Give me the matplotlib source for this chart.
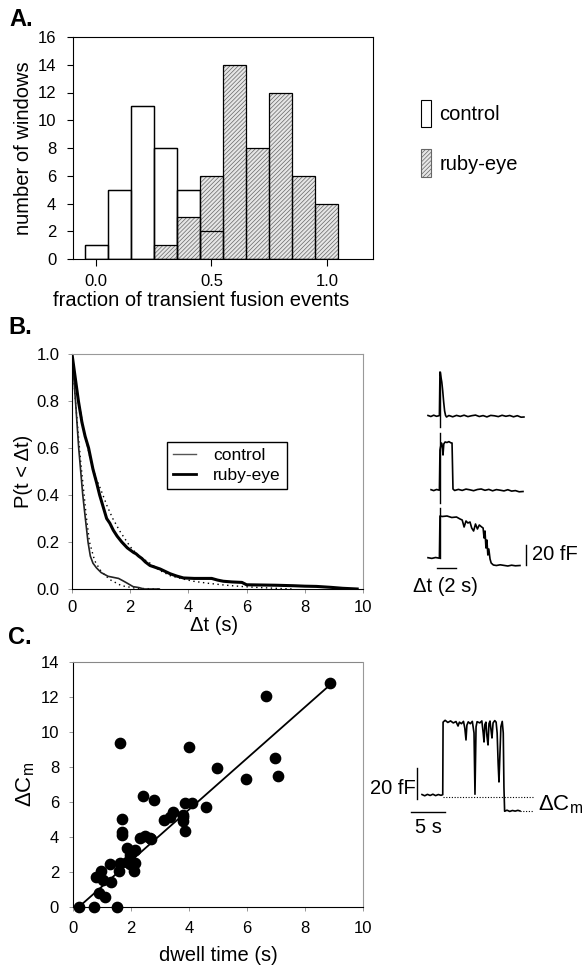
import matplotlib
matplotlib.use("Agg")
import matplotlib.pyplot as plt
from matplotlib.patches import Patch
from matplotlib.lines import Line2D

plt.rcParams['font.family'] = ['Liberation Sans', 'DejaVu Sans']
plt.rcParams['hatch.linewidth'] = 0.5

# ── Panel A: histogram of transient fraction ──
bin_centers = [0.0, 0.1, 0.2, 0.3, 0.4, 0.5, 0.6, 0.7, 0.8, 0.9, 1.0]
control_counts = [1, 5, 11, 8, 5, 2, 0, 0, 0, 0, 0]
ruby_counts = [0, 0, 0, 1, 3, 6, 14, 8, 12, 6, 4]

# ── Panel B: cumulative dwell distributions ──
ctrl_t = [0, 0.12, 0.23, 0.37, 0.45, 0.55, 0.63, 0.72, 0.84, 1.0, 1.12, 1.24, 1.4, 1.6, 1.75, 1.88, 2.1, 2.3, 2.47, 3.0]
ctrl_p = [1.0, 0.8, 0.6, 0.4, 0.31, 0.2, 0.14, 0.11, 0.09, 0.07, 0.062, 0.054, 0.05, 0.045, 0.035, 0.026, 0.01, 0.006, 0.0, 0.0]
ctrl_fit_t = [0, 0.1, 0.2, 0.3, 0.4, 0.49, 0.6, 0.78, 1.0, 1.3, 1.7, 2.2, 3.0]
ctrl_fit_p = [1.0, 0.83, 0.68, 0.54, 0.42, 0.31, 0.2, 0.12, 0.075, 0.04, 0.014, 0.003, 0.0]

ruby_t = [0, 0.22, 0.34, 0.45, 0.57, 0.72, 0.85, 0.95, 1.07, 1.19, 1.3, 1.42, 1.55, 1.71, 1.9, 2.12, 2.2, 2.29, 2.4, 2.52,
          2.68, 3.03, 3.37, 3.6, 3.83, 4.2, 4.8, 5.0, 5.2, 5.5, 5.84, 6.0, 6.5, 7.0, 7.6, 8.0, 8.4, 8.9, 9.3, 9.8]
ruby_p = [1.0, 0.8, 0.71, 0.65, 0.6, 0.51, 0.45, 0.4, 0.35, 0.3, 0.28, 0.25, 0.225, 0.2, 0.175, 0.155, 0.15, 0.14, 0.13, 0.115,
          0.1, 0.085, 0.065, 0.055, 0.047, 0.045, 0.045, 0.038, 0.033, 0.03, 0.028, 0.018, 0.017, 0.016, 0.014, 0.012, 0.011, 0.007, 0.003, 0.0]
ruby_fit_t = [0, 0.2, 0.4, 0.6, 0.8, 1.0, 1.2, 1.4, 1.65, 2.0, 2.3, 2.68, 3.0, 3.37, 3.8, 4.17, 4.7, 5.3, 5.9, 6.47, 7.0, 7.6]
ruby_fit_p = [1.0, 0.82, 0.68, 0.57, 0.48, 0.42, 0.355, 0.3, 0.245, 0.18, 0.14, 0.11, 0.08, 0.057, 0.043, 0.033, 0.024, 0.016, 0.01, 0.006, 0.003, 0.0]

# example traces next to panel B (time in s, capacitance in fF)
tr1_t = [0.0, 0.3, 0.6, 0.9, 1.2, 1.26, 1.3, 1.38, 1.45, 1.55, 1.65, 1.75, 1.85, 1.95, 2.2, 2.6, 3.0, 3.4, 3.8, 4.2,
         4.6, 5.0, 5.4, 5.8, 6.2, 6.6, 7.0, 7.4, 7.8, 8.2, 8.6, 9.0, 9.4, 9.8, 10.1]
tr1_f = [0.5, -0.5, 0.8, -0.3, 0.4, 44, 43, 38, 34, 25, 14, 5, 0.5, -1, 0.5, -0.8, 0.6, -0.4, 0.8, -0.6,
         0.3, 0.9, -0.5, 0.4, -0.9, 0.6, 0.2, -0.6, 0.7, -0.3, 0.5, -0.8, 0.3, -1.2, -1.0]
tr2_t = [0.32, 0.6, 0.9, 1.2, 1.26, 1.32, 1.42, 1.5, 1.58, 1.66, 1.8, 2.0, 2.2, 2.4, 2.53, 2.63, 2.8, 3.2, 3.6, 4.0,
         4.4, 4.8, 5.2, 5.6, 6.0, 6.4, 6.8, 7.2, 7.6, 8.0, 8.4, 8.8, 9.2, 9.6, 10.0]
tr2_f = [0.3, -0.6, 0.5, -0.2, 40, 43, 47, 44, 35, 46, 48, 47.5, 48.4, 47.2, 47, 1, -0.5, 0.6, -0.4, 0.9,
         0.2, -0.7, 0.5, 1.0, -0.3, 0.6, -0.8, 0.4, -0.2, -0.9, 0.3, -1.1, -0.6, -1.8, -1.5]
tr3_t = [0.0, 0.4, 0.8, 1.2, 1.26, 1.5, 2.0, 2.5, 3.0, 3.37, 3.6, 3.8, 4.0, 4.2, 4.42, 4.6, 4.8, 5.0, 5.2, 5.4,
         5.65, 5.8, 5.9, 6.0, 6.1, 6.2, 6.3, 6.4, 6.53, 6.65, 6.88, 7.2, 7.6, 8.0, 8.4, 8.8, 9.2, 9.68]
tr3_f = [0.3, -0.4, 0.5, -0.2, 42, 41.5, 42, 40.5, 41, 39, 38, 31, 37, 35, 36, 30, 27, 34, 29, 33,
         31, 30, 20, 27, 10, 18, 3, 9, -1, -5, -7, -7.5, -6.8, -7.4, -8, -7.2, -7.8, -7.5]
tr_offsets = [142, 68, 0]
onset_t = 1.26
onset_segments = [(131, 186), (55, 125), (0, 50)]

# ── Panel C: dwell time vs capacitance step ──
dwell = [0.22, 0.71, 1.5, 0.79, 0.89, 0.98, 1.11, 1.04, 1.3, 1.28, 1.59, 1.61, 1.61, 1.7, 1.7, 1.7, 1.87, 1.87,
         1.98, 1.98, 2.13, 2.11, 2.13, 2.3, 2.41, 2.49, 2.64, 2.78, 2.7, 3.15, 3.33, 3.46, 3.78, 3.78, 3.78, 3.86,
         3.86, 3.99, 4.1, 4.57, 4.98, 5.97, 6.66, 6.96, 7.06, 8.85]
delta_cm = [0.0, 0.0, 0.0, 1.72, 0.8, 2.06, 0.57, 1.53, 1.43, 2.44, 2.04, 2.54, 9.36, 5.02, 4.3, 4.09, 2.58, 3.4,
            2.96, 2.48, 2.54, 2.04, 3.25, 3.92, 6.34, 4.07, 3.92, 6.11, 3.9, 4.97, 5.12, 5.44, 5.25, 4.93, 5.15, 4.34,
            5.92, 9.13, 5.92, 5.73, 7.93, 7.31, 12.03, 8.54, 7.51, 12.8]
fit_x = [0.2, 8.8]
fit_y = [0.0, 12.6]

# example trace next to panel C
trc_t = [0.0, 0.4, 0.8, 1.2, 1.6, 2.0, 2.4, 2.8, 3.05, 3.1, 3.4, 3.8, 4.2, 4.6, 5.0, 5.3, 5.5, 5.8, 6.1, 6.3,
         6.47, 6.6, 6.8, 7.1, 7.4, 7.65, 7.79, 7.95, 8.1, 8.5, 8.8, 9.0, 9.12, 9.25, 9.4, 9.55, 9.71, 9.85, 10.0,
         10.15, 10.29, 10.45, 10.7, 10.9, 11.05, 11.2, 11.32, 11.45, 11.6, 11.8, 11.95, 12.05, 12.15, 12.5, 12.9,
         13.3, 13.7, 14.1, 14.4]
trc_f = [0.3, -0.5, 0.4, -0.3, 0.5, -0.4, 0.3, -0.2, 0.2, 47.0, 48.2, 46.8, 47.8, 46.5, 47.4, 44.5, 47.0, 46.0,
         47.5, 43.0, 35.5, 45.0, 47.2, 46.0, 47.5, 40.0, 0.5, 44.0, 47.3, 46.5, 47.8, 40.0, 34.2, 45.5, 47.0, 38.0,
         32.3, 46.0, 47.7, 42.0, 36.8, 46.5, 48.0, 47.0, 40.0, 20.0, 8.4, 25.0, 44.0, 47.5, 40.0, 5.0, -10.5, -9.8,
         -10.6, -10.0, -10.4, -9.9, -10.3]

W, H = 587, 969
fig = plt.figure(figsize=(W / 100, H / 100), dpi=100)


def px_axes(left, top, right, bottom):
    return fig.add_axes([left / W, 1 - bottom / H, (right - left) / W, (bottom - top) / H])


TICK_FS = 12
LABEL_FS = 14.5
NOTE_FS = 14.5
PANEL_FS = 17
HATCH = '////////'
HATCH_FACE = '#e6e6e6'
HATCH_INK = '#666666'

# ── A ──
axA = px_axes(73, 37, 373, 259)
axA.bar(bin_centers, control_counts, width=0.1, facecolor='white', edgecolor='black', linewidth=0.9)
axA.bar(bin_centers, ruby_counts, width=0.1, facecolor=HATCH_FACE, edgecolor=HATCH_INK, hatch=HATCH, linewidth=0)
axA.bar(bin_centers, ruby_counts, width=0.1, fill=False, edgecolor='black', linewidth=0.9)
axA.bar(bin_centers, control_counts, width=0.1, fill=False, edgecolor='black', linewidth=0.9)
axA.set_xlim(-0.1, 1.2)
axA.set_ylim(0, 16)
axA.set_xticks([0.0, 0.5, 1.0])
axA.set_xticklabels(['0.0', '0.5', '1.0'])
axA.set_yticks(range(0, 17, 2))
axA.tick_params(axis='x', labelsize=TICK_FS, length=5, width=0.8, pad=6)
axA.tick_params(axis='y', labelsize=TICK_FS, length=4, width=0.8, pad=8)
axA.set_xlabel('fraction of transient fusion events', fontsize=LABEL_FS)
axA.set_ylabel('number of windows', fontsize=LABEL_FS)
axA.xaxis.set_label_coords(0.427, -0.145)
axA.yaxis.set_label_coords(-0.135, 0.5)
handles = [Patch(facecolor='white', edgecolor='black', linewidth=0.8),
           Patch(facecolor=HATCH_FACE, edgecolor=HATCH_INK, hatch=HATCH, linewidth=0.8)]
axA.legend(handles, ['control', 'ruby-eye'], loc='upper left', bbox_to_anchor=(403 / W, 1 - 82 / H),
           bbox_transform=fig.transFigure, frameon=False, fontsize=LABEL_FS,
           handlelength=0.5, handleheight=1.7, handletextpad=0.4, labelspacing=1.1)
fig.text(9 / W, 1 - 20 / H, 'A.', fontsize=PANEL_FS, fontweight='bold', va='center')

# ── B ──
axB = px_axes(72, 354, 363, 589)
axB.plot(ctrl_fit_t, ctrl_fit_p, color='black', linestyle=(0, (1, 2.5)), linewidth=1.0)
axB.plot(ruby_fit_t, ruby_fit_p, color='black', linestyle=(0, (1, 2.5)), linewidth=1.0)
axB.plot(ctrl_t, ctrl_p, color='#222222', linewidth=1.2, label='control')
axB.plot(ruby_t, ruby_p, color='black', linewidth=2.2, label='ruby-eye')
axB.set_xlim(0, 10)
axB.set_ylim(0, 1.0)
axB.set_xticks(range(0, 11, 2))
axB.set_yticks([0.0, 0.2, 0.4, 0.6, 0.8, 1.0])
axB.set_yticklabels(['0.0', '0.2', '0.4', '0.6', '0.8', '1.0'])
axB.tick_params(axis='x', labelsize=TICK_FS, length=3, width=0.6, color='#888888', pad=5)
axB.tick_params(axis='y', labelsize=TICK_FS, length=3, width=0.6, color='#888888', pad=6)
for side in ['top', 'right']:
    axB.spines[side].set_color('#999999')
    axB.spines[side].set_linewidth(0.8)
axB.set_xlabel('Δt (s)', fontsize=LABEL_FS)
axB.set_ylabel('P(t < Δt)', fontsize=LABEL_FS)
axB.xaxis.set_label_coords(0.488, -0.115)
axB.yaxis.set_label_coords(-0.135, 0.5)
legB = axB.legend(handles=[Line2D([], [], color='#555555', linewidth=1.0),
                           Line2D([], [], color='black', linewidth=2.0)],
                  labels=['control', 'ruby-eye'], loc='upper left', bbox_to_anchor=(0.326, 0.625),
                  fontsize=12.5, fancybox=False, edgecolor='black', framealpha=1,
                  handlelength=1.3, handletextpad=1.0, borderpad=0.35, borderaxespad=0,
                  labelspacing=0.25)
legB.get_frame().set_linewidth(1.0)
fig.text(8 / W, 1 - 327 / H, 'B.', fontsize=PANEL_FS, fontweight='bold', va='center')

# traces for B (9.5 px per s, 1 px per fF, baseline of lowest trace at y=558 px, t=0 at x=428 px)
axTB = px_axes(400, 360, 587, 600)
axTB.set_xlim((400 - 428) / 9.5, (587 - 428) / 9.5)
axTB.set_ylim(558 - 600, 558 - 360)
axTB.axis('off')
for tt, ff, off in zip([tr1_t, tr2_t, tr3_t], [tr1_f, tr2_f, tr3_f], tr_offsets):
    axTB.plot(tt, [f + off for f in ff], color='black', linewidth=1.2)
for lo, hi in onset_segments:
    axTB.plot([onset_t, onset_t], [lo, hi], color='black', linewidth=1.0)
axTB.plot([10.3, 10.3], [-7, 13], color='black', linewidth=1.0)
axTB.text(10.95, 3, '20 fF', fontsize=NOTE_FS, va='center', ha='left')
axTB.plot([0.95, 2.95], [-10, -10], color='black', linewidth=1.0)
axTB.text(1.8, -28, 'Δt (2 s)', fontsize=NOTE_FS, va='center', ha='center')

# ── C ──
axC = px_axes(73, 662, 363, 907)
axC.plot(fit_x, fit_y, color='black', linewidth=1.3)
axC.scatter(dwell, delta_cm, s=55, color='black', zorder=3, clip_on=False)
axC.set_xlim(0, 10)
axC.set_ylim(0, 14)
axC.set_xticks(range(0, 11, 2))
axC.set_yticks(range(0, 15, 2))
axC.tick_params(axis='x', labelsize=TICK_FS, length=3, width=0.6, color='#888888', pad=7)
axC.tick_params(axis='y', labelsize=TICK_FS, length=3, width=0.6, color='#888888', pad=7)
axC.spines['top'].set_color('#888888')
axC.spines['top'].set_linestyle((0, (2, 1)))
axC.spines['right'].set_color('#999999')
axC.set_xlabel('dwell time (s)', fontsize=LABEL_FS)
axC.set_ylabel('ΔC$_\\mathregular{m}$', fontsize=LABEL_FS + 1.5)
axC.xaxis.set_label_coords(0.5, -0.16)
axC.yaxis.set_label_coords(-0.125, 0.5)
fig.text(8 / W, 1 - 638 / H, 'C.', fontsize=PANEL_FS, fontweight='bold', va='center')

# trace for C (6.8 px per s, 1.55 px per fF, baseline at y=795 px, t=0 at x=422 px)
axTC = px_axes(363, 700, 587, 850)
axTC.set_xlim((363 - 422) / 6.8, (587 - 422) / 6.8)
axTC.set_ylim((795 - 850) / 1.55, (795 - 700) / 1.55)
axTC.axis('off')
axTC.plot(trc_t, trc_f, color='black', linewidth=1.2)
axTC.plot([3.1, 16.3], [-1.3, -1.3], color='black', linestyle=(0, (1, 1.5)), linewidth=0.8)
axTC.plot([14.4, 16.3], [-10.3, -10.3], color='black', linestyle=(0, (1, 1.5)), linewidth=0.8)
axTC.plot([-0.74, -0.74], [-2.6, 17.4], color='black', linewidth=1.0)
axTC.text(-0.95, 3.9, '20 fF', fontsize=NOTE_FS, va='center', ha='right')
axTC.plot([-1.62, 3.38], [-11, -11], color='black', linewidth=1.0)
axTC.text(0.9, -21, '5 s', fontsize=NOTE_FS, va='center', ha='center')
axTC.text(17.0, -6.5, 'ΔC$_\\mathregular{m}$', fontsize=16, va='center', ha='left')

fig.savefig('out.png', dpi=100)
